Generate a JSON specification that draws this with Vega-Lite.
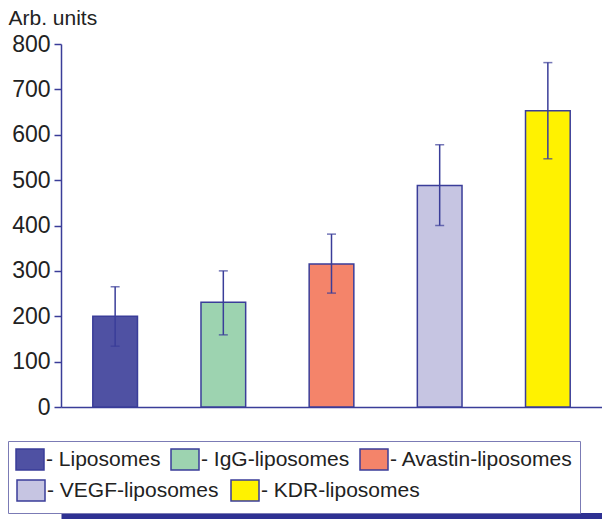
{
  "$schema": "https://vega.github.io/schema/vega-lite/v6.json",
  "width": 541,
  "height": 363,
  "autosize": {"type": "none"},
  "padding": {"left": 61, "top": 44, "right": 0, "bottom": 112},
  "background": "white",
  "data": {
    "values": [
      {"group": "Liposomes", "row": 1, "mean": 200, "lo": 134, "hi": 265},
      {"group": "IgG-liposomes", "row": 1, "mean": 231, "lo": 159, "hi": 300},
      {"group": "Avastin-liposomes", "row": 1, "mean": 315, "lo": 251, "hi": 381},
      {"group": "VEGF-liposomes", "row": 2, "mean": 488, "lo": 400, "hi": 578},
      {"group": "KDR-liposomes", "row": 2, "mean": 653, "lo": 547, "hi": 759}
    ]
  },
  "layer": [
    {
      "transform": [{"filter": "datum.row == 1"}],
      "mark": {"type": "bar", "stroke": "#3a3d99", "strokeWidth": 1.5, "opacity": 1},
      "encoding": {
        "x": {
          "field": "group",
          "type": "nominal",
          "scale": {"domain": ["Liposomes", "IgG-liposomes", "Avastin-liposomes", "VEGF-liposomes", "KDR-liposomes"], "paddingInner": 0.587, "paddingOuter": 0.294},
          "axis": {"orient": "bottom", "labels": false, "ticks": false, "title": null, "domainColor": "#3a3d99", "domainWidth": 1.5}
        },
        "y": {
          "field": "mean",
          "type": "quantitative",
          "title": "Arb. units",
          "scale": {"domain": [0, 800]},
          "axis": {
            "values": [0, 100, 200, 300, 400, 500, 600, 700, 800],
            "grid": false,
            "domainColor": "#3a3d99",
            "domainWidth": 1.5,
            "tickColor": "#3a3d99",
            "tickWidth": 1.5,
            "tickSize": 7,
            "labelFontSize": 23,
            "labelColor": "#222222",
            "labelPadding": 4,
            "labelFlush": false,
            "labelOverlap": false,
            "titleAngle": 0,
            "titleAlign": "left",
            "titleBaseline": "alphabetic",
            "titleX": -53,
            "titleY": -20,
            "titleFontSize": 21,
            "titleFontWeight": "normal",
            "titleColor": "#222222"
          }
        },
        "fill": {
          "field": "group",
          "type": "nominal",
          "scale": {
            "domain": ["Liposomes", "IgG-liposomes", "Avastin-liposomes"],
            "range": ["#4f51a3", "#9dd3b0", "#f4846a"]
          },
          "legend": {
            "title": "                                                                           ",
            "titleOrient": "bottom",
            "titleAnchor": "start",
            "titleFontSize": 29,
            "titlePadding": 4,
            "titleLimit": 1000,
            "orient": "none",
            "legendX": -53,
            "legendY": 397,
            "direction": "horizontal",
            "strokeColor": "#7b7bb5",
            "padding": 7,
            "symbolType": "M-1,-1H1.667V1H-1Z",
            "symbolSize": 441,
            "symbolStrokeColor": "#3a3d99",
            "symbolStrokeWidth": 1.5,
            "symbolOpacity": 1,
            "labelFontSize": 21,
            "labelColor": "#222222",
            "labelExpr": "'- ' + datum.label",
            "labelOffset": 8,
            "labelLimit": 300,
            "columnPadding": 7
          }
        }
      }
    },
    {
      "transform": [{"filter": "datum.row == 2"}],
      "mark": {"type": "bar", "stroke": "#3a3d99", "strokeWidth": 1.5, "opacity": 1},
      "encoding": {
        "x": {
          "field": "group",
          "type": "nominal",
          "scale": {"domain": ["Liposomes", "IgG-liposomes", "Avastin-liposomes", "VEGF-liposomes", "KDR-liposomes"], "paddingInner": 0.587, "paddingOuter": 0.294},
          "axis": {"orient": "bottom", "labels": false, "ticks": false, "title": null, "domainColor": "#2e3192", "domainWidth": 7, "offset": 109}
        },
        "y": {"field": "mean", "type": "quantitative", "title": "Arb. units"},
        "fill": {
          "field": "group",
          "type": "nominal",
          "scale": {
            "domain": ["VEGF-liposomes", "KDR-liposomes"],
            "range": ["#c6c5e2", "#fff200"]
          },
          "legend": {
            "title": null,
            "orient": "none",
            "legendX": -45,
            "legendY": 435,
            "direction": "horizontal",
            "padding": 0,
            "symbolType": "M-1,-1H1.667V1H-1Z",
            "symbolSize": 441,
            "symbolStrokeColor": "#3a3d99",
            "symbolStrokeWidth": 1.5,
            "symbolOpacity": 1,
            "labelFontSize": 21,
            "labelColor": "#222222",
            "labelExpr": "'- ' + datum.label",
            "labelOffset": 8,
            "labelLimit": 300,
            "columnPadding": 9
          }
        }
      }
    },
    {
      "mark": {"type": "errorbar", "ticks": true, "size": 9, "color": "#3a3d99", "thickness": 1.5},
      "encoding": {
        "x": {
          "field": "group",
          "type": "nominal",
          "scale": {"domain": ["Liposomes", "IgG-liposomes", "Avastin-liposomes", "VEGF-liposomes", "KDR-liposomes"], "paddingInner": 0.587, "paddingOuter": 0.294},
          "axis": null
        },
        "y": {"field": "lo", "type": "quantitative", "title": "Arb. units"},
        "y2": {"field": "hi"}
      }
    }
  ],
  "resolve": {"scale": {"fill": "independent", "x": "independent"}, "axis": {"x": "independent"}},
  "config": {
    "view": {"stroke": null},
    "font": "Liberation Sans"
  }
}
